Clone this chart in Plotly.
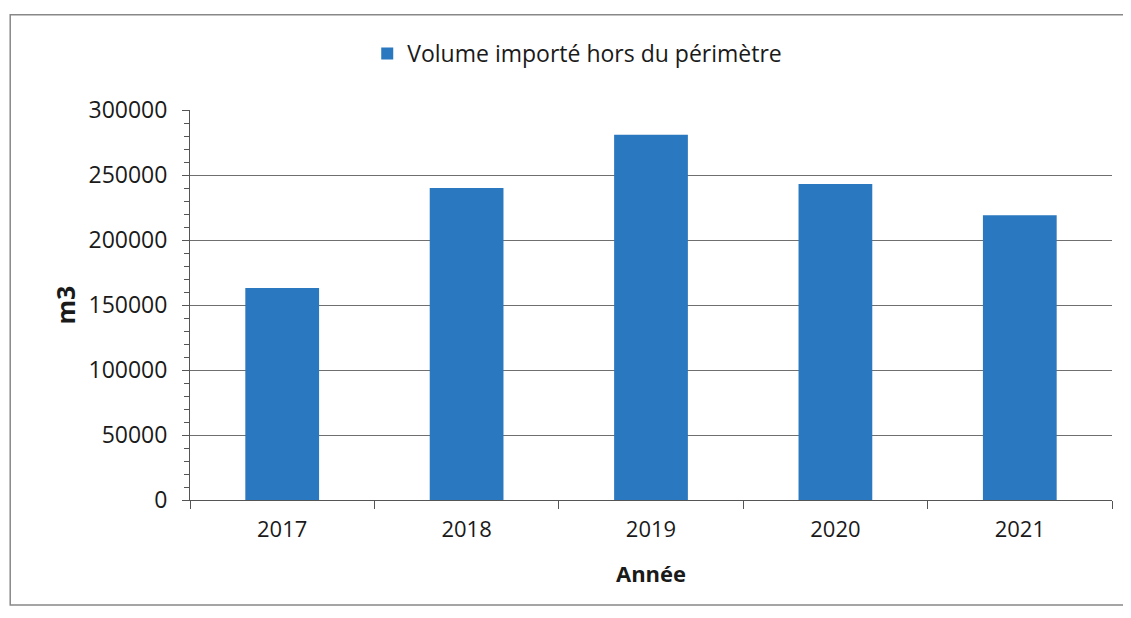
import plotly.graph_objects as go

# data
years = ["2017", "2018", "2019", "2020", "2021"]
volumes = [163000, 240000, 281000, 243000, 219000]
series_name = "Volume importé hors du périmètre"
y_ticks = [0, 50000, 100000, 150000, 200000, 250000, 300000]
y_tick_labels = [str(v) for v in y_ticks]

FONT = "Open Sans, sans-serif"
BAR_COLOR = "#2a78bf"

fig = go.Figure()

fig.add_trace(
    go.Bar(
        x=years,
        y=volumes,
        name=series_name,
        marker=dict(color=BAR_COLOR, line=dict(width=0)),
        showlegend=True,
    )
)

# the page body has an 8px margin, so margins are shifted by 8px
fig.update_layout(
    width=1123,
    height=610,
    margin=dict(l=182, r=19, t=102, b=118),
    paper_bgcolor="white",
    plot_bgcolor="white",
    font=dict(family=FONT, size=22, color="#1a1a1a"),
    bargap=0.6,
    showlegend=True,
    legend=dict(
        orientation="h",
        x=0.42,
        xanchor="center",
        y=1.145,
        yanchor="middle",
        font=dict(size=23),
        itemwidth=30,
    ),
    xaxis=dict(
        title=dict(text="<b>Année</b>", font=dict(size=22), standoff=24),
        showline=True,
        linecolor="#555555",
        linewidth=1,
        ticks="outside",
        tickson="boundaries",
        ticklen=8,
        tickcolor="#555555",
        showgrid=False,
        tickfont=dict(size=22),
        ticklabelstandoff=10,
    ),
    yaxis=dict(
        title=dict(text="<b>m3</b>", font=dict(size=25), standoff=5),
        range=[0, 300000],
        tickvals=y_ticks,
        ticktext=y_tick_labels,
        ticks="outside",
        ticklen=7,
        tickcolor="#555555",
        showline=True,
        linecolor="#555555",
        linewidth=1,
        showgrid=True,
        gridcolor="#6f6f6f",
        gridwidth=1,
        zeroline=False,
        tickfont=dict(size=23),
        ticklabelstandoff=10,
        minor=dict(dtick=10000, ticks="outside", ticklen=5, tickcolor="#555555"),
    ),
    shapes=[
        dict(
            type="rect",
            xref="paper",
            yref="paper",
            x0=-0.195,
            x1=1.017,
            y0=-0.269,
            y1=1.244,
            line=dict(color="#888888", width=1.5),
            fillcolor="rgba(0,0,0,0)",
            layer="below",
        )
    ],
)

fig.write_html("out.html")
